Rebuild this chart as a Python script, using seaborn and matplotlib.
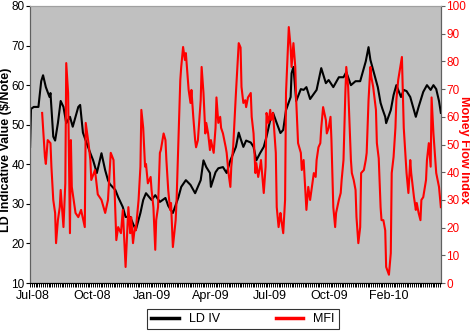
import pandas as pd
import matplotlib.pyplot as plt
import seaborn as sns
from matplotlib.lines import Line2D

# trading day index (0 = start of Jul-08) and values
ld_day = [0, 1, 4, 9, 12, 14, 17, 21, 22, 25, 27, 30, 33, 36, 39, 43, 46, 52, 54, 57,
          60, 65, 68, 72, 77, 81, 84, 86, 92, 95, 100, 103, 108, 111, 114, 119, 122, 125,
          131, 135, 140, 146, 149, 154, 160, 163, 168, 173, 178, 184, 187, 190, 194, 195,
          200, 203, 208, 212, 216, 222, 225, 227, 230, 233, 238, 241, 244, 248, 252, 255,
          259, 262, 266, 270, 273, 276, 281, 282, 284, 287, 292, 295, 298, 302, 309, 314,
          319, 322, 327, 333, 338, 341, 346, 351, 356, 362, 365, 367, 370, 375, 378, 380,
          383, 384, 389, 392, 395, 400, 403, 406, 410, 416, 419, 424, 428, 432, 435, 438,
          441, 443]
ld_iv = [44.4, 54, 54.5, 54.5, 61, 62.5, 59.5, 57, 58, 47, 46, 50.4, 56, 54.5, 50.4, 52,
         49.5, 54.5, 55, 48, 46, 42.8, 41, 37.8, 42.8, 38.5, 36, 35, 33.5, 31.7, 29.2, 26.7,
         26.7, 25, 23.4, 27.7, 31, 32.7, 31, 32.2, 30.5, 31.5, 29.5, 27.7, 31.7, 34.3, 36,
         34.8, 32.7, 36, 41, 39.3, 37.8, 34.3, 38, 39, 39.3, 37.8, 41, 44.4, 48, 46.5, 44.4,
         46, 45.5, 44.4, 41, 42.8, 44.4, 47, 51.2, 53, 50.4, 47.9, 48.7, 53.7, 57, 63, 64.6,
         56, 59, 58.8, 59.5, 56.5, 58.8, 64.3, 60.5, 61.3, 59.5, 62, 62, 63.3, 60, 61, 61,
         66, 69.6, 66.4, 63.8, 59.5, 55.5, 54, 52, 50.4, 53.7, 57.5, 60, 57, 58.8, 58.5, 57,
         52, 54.5, 58.3, 60, 58.8, 60, 59, 56, 53]

mfi_day = [13, 14, 16, 17, 19, 22, 23, 25, 27, 28, 30, 32, 33, 36, 38, 39, 41, 43, 44, 45,
           49, 52, 55, 59, 60, 63, 65, 66, 70, 73, 77, 81, 84, 87, 90, 92, 93, 95, 98, 100,
           103, 104, 106, 108, 109, 111, 113, 114, 117, 119, 120, 122, 124, 125, 127, 130,
           131, 133, 135, 136, 138, 140, 141, 144, 146, 147, 149, 151, 152, 154, 157, 158,
           160, 162, 163, 165, 167, 168, 171, 173, 174, 176, 178, 179, 181, 184, 185, 187,
           189, 190, 192, 194, 195, 198, 200, 201, 203, 205, 206, 208, 211, 212, 214, 216,
           217, 219, 221, 222, 225, 227, 228, 230, 232, 233, 235, 238, 239, 241, 243, 244,
           246, 248, 249, 252, 254, 255, 257, 259, 260, 262, 265, 266, 268, 270, 271, 273,
           275, 276, 279, 281, 282, 284, 286, 287, 289, 292, 293, 295, 297, 298, 300, 302,
           303, 306, 308, 309, 311, 313, 314, 316, 319, 320, 322, 324, 325, 327, 329, 330,
           333, 335, 336, 338, 340, 341, 343, 346, 347, 349, 351, 352, 354, 356, 357, 360,
           362, 363, 365, 367, 368, 370, 373, 374, 376, 378, 379, 381, 383, 384, 387, 389,
           390, 392, 394, 395, 397, 400, 401, 403, 405, 406, 408, 410, 411, 414, 416, 417,
           419, 421, 422, 424, 427, 428, 430, 432, 433, 435, 437, 438, 441, 443]
mfi = [61.4, 56, 45.5, 43, 51.6, 50.5, 42, 30, 25.3, 14.4, 22.7, 27.4, 33.6, 20.2, 36,
       79.4, 68.6, 18, 51.6, 34.7, 25.3, 23.8, 26.4, 20.2, 57.8, 50.5, 44.4, 37.2, 40.8, 32,
       30, 25.3, 30, 47, 44.4, 25.3, 15.5, 20.2, 18, 26.4, 5.8, 13, 27.4, 18, 23.8, 14.4,
       20.2, 19, 30, 42, 62.5, 56, 42, 43, 36, 38.3, 33.6, 27.4, 12, 22.7, 27.4, 47, 48, 54,
       51.6, 44.4, 33.5, 26.4, 28.9, 13, 22.7, 30, 51.6, 73.3, 78, 85.2, 80.5, 83, 69.7, 65,
       69.7, 60, 51.6, 49, 51.6, 66, 78, 68.6, 54, 57.8, 54, 48, 51.6, 47, 56, 67, 57.8, 60,
       56, 54, 49, 47, 39.7, 34.7, 42, 49, 62.5, 68.6, 86.6, 85, 70.8, 65, 66, 63.5, 67,
       68.6, 60, 54, 39.7, 43.3, 38.3, 42, 44.4, 32.5, 42, 61.4, 57.8, 62.5, 58.8, 61.4, 47,
       27.4, 20.2, 25.3, 22.7, 18, 30, 68.6, 92.4, 85, 78, 86.6, 78, 66, 50.5, 47, 40.8,
       44.4, 32.5, 26.4, 34.7, 30, 32.5, 39.7, 38.3, 44.4, 49, 50.5, 56, 63.5, 58.8, 54, 56,
       60, 51.6, 27.4, 20.2, 25.3, 30, 32.5, 37.2, 44.4, 68.6, 78, 70.8, 44.4, 39.7, 37.2,
       33.6, 23.8, 14.4, 20.2, 39.7, 40.8, 44.4, 47, 66, 78, 74.4, 70.8, 62.5, 50.5, 45,
       27.4, 22.7, 22.7, 19, 5.8, 3, 10.8, 39.7, 45.5, 56, 66, 73.3, 79.4, 81.6, 56, 45.5,
       39.7, 32.5, 44.4, 39.7, 31, 26.4, 28.9, 25.3, 22.7, 30, 31, 37.2, 44.4, 50.5, 42, 67,
       54, 44.4, 39.7, 34.7, 27.4]

tick_labels = ["Jul-08", "Oct-08", "Jan-09", "Apr-09", "Jul-09", "Oct-09", "Feb-10"]
tick_days = [3, 67, 131, 195, 259, 323, 387]

plt.rcParams["font.family"] = ["Liberation Sans", "DejaVu Sans"]
plt.rcParams["font.size"] = 9

ld_df = pd.DataFrame({"day": ld_day, "value": ld_iv})
mfi_df = pd.DataFrame({"day": mfi_day, "value": mfi})

fig = plt.figure(figsize=(4.7, 3.33), dpi=100)
ax = fig.add_axes([0.064, 0.150, 0.874, 0.832])
ax.set_facecolor("#C0C0C0")

sns.lineplot(data=ld_df, x="day", y="value", ax=ax, color="black", linewidth=1.5)
ax2 = ax.twinx()
sns.lineplot(data=mfi_df, x="day", y="value", ax=ax2, color="#FF0000", linewidth=1.5)

ax.set_xlim(0, 443)
ax.set_ylim(10, 80)
ax2.set_ylim(0, 100)
ax.set_yticks(range(10, 81, 10))
ax2.set_yticks(range(0, 101, 10))

ax.set_xticks(tick_days)
ax.set_xticklabels(tick_labels)
ax.set_xticks(range(0, 444, 2), minor=True)
ax.tick_params(axis="x", which="major", length=0, pad=5, labelsize=9)
ax.tick_params(axis="x", which="minor", length=3, width=0.7, direction="out")
ax.tick_params(axis="y", length=3, width=0.8, colors="black", pad=1, labelsize=8.5)
ax2.tick_params(axis="y", length=3, width=0.8, color="#606060", labelcolor="#FF0000",
                pad=1, labelsize=8.5)

ax.set_xlabel("")
ax.set_ylabel("LD Indicative Value ($/Note)", fontweight="bold", va="center")
ax.yaxis.set_label_coords(-0.058, 0.48)
ax2.set_ylabel("Money Flow Index", fontweight="bold", color="#FF0000", rotation=270,
               va="center")
ax2.yaxis.set_label_coords(1.057, 0.48)

for a in (ax, ax2):
    a.spines["top"].set_color("#A0A0A0")
    a.spines["left"].set_color("#606060")
    a.spines["right"].set_color("#606060")
    a.spines["bottom"].set_color("black")

handles = [Line2D([], [], color="black", linewidth=2.5),
           Line2D([], [], color="#FF0000", linewidth=2.5)]
leg = fig.legend(handles, ["LD IV", "MFI"], loc="center", bbox_to_anchor=(0.517, 0.042),
                 ncol=2, frameon=True, fancybox=False, edgecolor="black",
                 columnspacing=4.5, handlelength=2.2, borderpad=0.35, fontsize=9)
leg.get_frame().set_linewidth(0.8)

fig.savefig("out.png", dpi=100)
